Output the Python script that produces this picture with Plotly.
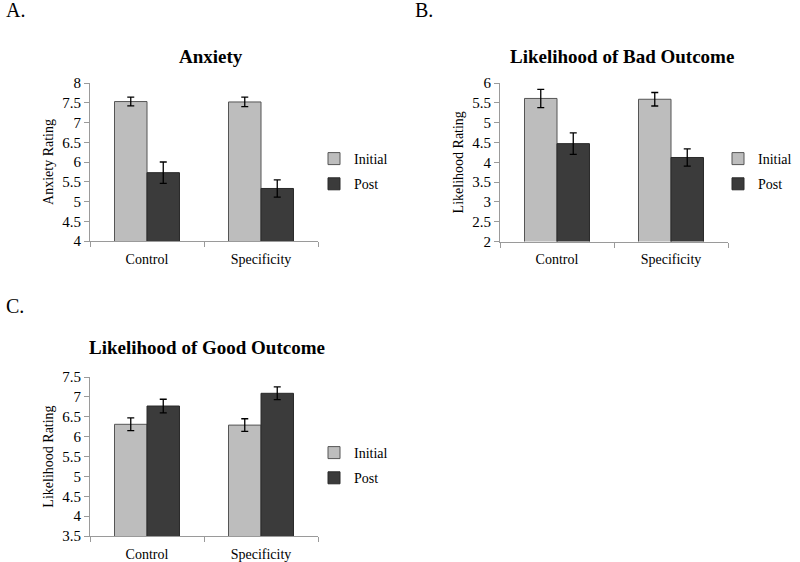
import plotly.graph_objects as go

categories = ["Control", "Specificity"]

anx_initial = [7.53, 7.52]
anx_initial_err = [0.11, 0.12]
anx_post = [5.73, 5.33]
anx_post_err = [0.27, 0.22]

bad_initial = [5.61, 5.59]
bad_initial_err = [0.23, 0.17]
bad_post = [4.47, 4.12]
bad_post_err = [0.27, 0.22]

good_initial = [6.31, 6.29]
good_initial_err = [0.16, 0.16]
good_post = [6.77, 7.09]
good_post_err = [0.17, 0.16]

series_names = ["Initial", "Post"]
titles = ["Anxiety", "Likelihood of Bad Outcome", "Likelihood of Good Outcome"]
y_titles = ["Anxiety Rating", "Likelihood Rating", "Likelihood Rating"]
panel_labels = ["A.", "B.", "C."]
y_ranges = [[4, 8], [2, 6], [3.5, 7.5]]

W, H = 800, 562
FONT = "Liberation Serif"
C_INIT = "#bdbdbd"
C_POST = "#3b3b3b"

fig = go.Figure()

panels = [
    (anx_initial, anx_initial_err, anx_post, anx_post_err),
    (bad_initial, bad_initial_err, bad_post, bad_post_err),
    (good_initial, good_initial_err, good_post, good_post_err),
]
axis_ids = ["", "2", "3"]
legend_ids = ["legend", "legend2", "legend3"]

for i, (vi, ei, vp, ep) in enumerate(panels):
    ax = axis_ids[i]
    for name, vals, errs, col, lc in [
        (series_names[0], vi, ei, C_INIT, "#555555"),
        (series_names[1], vp, ep, C_POST, "#2a2a2a"),
    ]:
        fig.add_trace(go.Bar(
            x=categories, y=vals, name=name,
            marker=dict(color=col, line=dict(color=lc, width=1)),
            error_y=dict(type="data", array=errs, visible=True,
                         color="black", thickness=1.3, width=3.5),
            xaxis="x" + ax, yaxis="y" + ax,
            legend=legend_ids[i],
            legendgroup=f"{i}_{name}",
        ))

def px_x(p):
    return p / W

def px_y(p):
    return 1 - p / H

domains = [
    dict(x=[px_x(90), px_x(318)], y=[px_y(241), px_y(83)]),
    dict(x=[px_x(500), px_x(728)], y=[px_y(241.5), px_y(83)]),
    dict(x=[px_x(90), px_x(318)], y=[px_y(536), px_y(377)]),
]

layout = dict(
    width=W, height=H, autosize=False,
    margin=dict(l=0, r=0, t=0, b=0, pad=0, autoexpand=False),
    paper_bgcolor="white", plot_bgcolor="white",
    font=dict(family=FONT, size=14, color="black"),
    barmode="group", bargap=0.43, bargroupgap=0,
    showlegend=True,
)

for i in range(3):
    ax = axis_ids[i]
    layout["xaxis" + ax] = dict(
        domain=domains[i]["x"], anchor="y" + ax, type="category",
        categoryorder="array", categoryarray=categories,
        range=[-0.5, 1.5], tickson="boundaries", ticks="outside",
        ticklen=5, tickcolor="#9a9a9a", showline=True, linecolor="#9a9a9a",
        linewidth=1, showgrid=False, zeroline=False,
        tickfont=dict(family=FONT, size=14, color="black"),
        ticklabelstandoff=5, automargin=False,
        fixedrange=True,
    )
    layout["yaxis" + ax] = dict(
        domain=domains[i]["y"], anchor="x" + ax, range=y_ranges[i],
        dtick=0.5, ticks="outside", ticklen=5, tickcolor="#9a9a9a",
        showline=True, linecolor="#9a9a9a", linewidth=1,
        showgrid=False, zeroline=False, automargin=False,
        tickfont=dict(family=FONT, size=15, color="black"),
        title=dict(text=y_titles[i], font=dict(family=FONT, size=14, color="black"), standoff=5),
        fixedrange=True,
    )

legend_pos = [(px_x(314), px_y(143)), (px_x(718), px_y(143)), (px_x(314), px_y(437))]
for i, lid in enumerate(legend_ids):
    layout[lid] = dict(
        x=legend_pos[i][0], y=legend_pos[i][1], xanchor="left", yanchor="top",
        bgcolor="rgba(0,0,0,0)", borderwidth=0,
        font=dict(family=FONT, size=14, color="black"),
        tracegroupgap=4,
    )

annotations = []
title_pos = [(211, 56), (622, 56), (207, 347)]
for i, t in enumerate(titles):
    annotations.append(dict(
        text=f"<b>{t}</b>", x=px_x(title_pos[i][0]), y=px_y(title_pos[i][1]),
        xref="paper", yref="paper", xanchor="center", yanchor="middle",
        showarrow=False, font=dict(family=FONT, size=19, color="black"),
    ))
label_pos = [(4, 10), (413, 10), (4, 306)]
for i, t in enumerate(panel_labels):
    annotations.append(dict(
        text=t, x=px_x(label_pos[i][0]), y=px_y(label_pos[i][1]),
        xref="paper", yref="paper", xanchor="left", yanchor="middle",
        showarrow=False, font=dict(family=FONT, size=20, color="black"),
    ))
layout["annotations"] = annotations

fig.update_layout(**layout)
fig.write_html(
    "out.html",
    config={"displayModeBar": False},
    post_script="document.body.style.margin='0';document.body.style.padding='0';document.body.style.overflow='hidden';",
)
